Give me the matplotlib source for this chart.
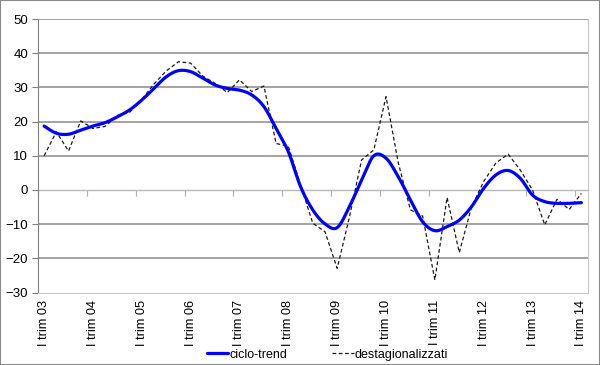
import matplotlib
matplotlib.use("Agg")
import matplotlib.pyplot as plt
import numpy as np
from matplotlib.patches import Rectangle

plt.rcParams['font.family'] = ['Liberation Sans', 'DejaVu Sans']

years = ["03", "04", "05", "06", "07", "08", "09", "10", "11", "12", "13", "14"]
tick_labels = ["I trim " + y for y in years]

ciclo_trend = [18.7, 16.6, 16.3, 17.5, 18.7, 19.7, 21.4, 23.4, 26.3, 29.7,
               33.1, 34.9, 34.6, 32.7, 30.7, 29.7, 29.2, 27.8, 24.4, 18.0,
               11.2, 1.0, -5.8, -9.9, -11.0, -4.9, 2.9, 10.0, 9.3, 3.9,
               -2.9, -9.3, -11.9, -10.7, -8.8, -4.9, 0.5, 4.4, 5.7, 3.4,
               -1.5, -3.4, -3.9, -3.9, -3.7]

destagionalizzati = [10.0, 17.0, 11.4, 20.2, 18.0, 18.6, 21.8, 22.7, 26.5, 31.0,
                     34.8, 37.5, 37.1, 33.3, 31.2, 28.5, 32.2, 28.8, 30.4, 13.6,
                     12.8, 1.5, -9.7, -12.2, -22.9, -8.0, 8.8, 11.7, 27.3, 8.0,
                     -5.8, -7.6, -26.3, -2.2, -18.3, -5.0, 2.5, 7.9, 10.5, 5.8,
                     0.0, -10.2, -2.7, -5.7, -1.0]

series_names = ["ciclo-trend", "destagionalizzati"]


def smooth(y, n=20):
    """Catmull-Rom/Bezier smoothing like Excel's smoothed line."""
    y = np.asarray(y, float)
    x = np.arange(len(y), dtype=float)
    P = np.column_stack([x, y])
    out = []
    for i in range(len(P) - 1):
        p0 = P[i - 1] if i > 0 else P[i]
        p1 = P[i]
        p2 = P[i + 1]
        p3 = P[i + 2] if i + 2 < len(P) else P[i + 1]
        c1 = p1 + (p2 - p0) / 6.0
        c2 = p2 - (p3 - p1) / 6.0
        t = np.linspace(0, 1, n, endpoint=(i == len(P) - 2))[:, None]
        seg = ((1 - t) ** 3) * p1 + 3 * ((1 - t) ** 2) * t * c1 + 3 * (1 - t) * t ** 2 * c2 + t ** 3 * p2
        out.append(seg)
    out = np.vstack(out)
    return out[:, 0], out[:, 1]


fig = plt.figure(figsize=(6.0, 3.65), dpi=100)
ax = fig.add_axes([38 / 600, 1 - 292.6 / 365, (587.5 - 38) / 600, (292.6 - 19) / 365])

n = len(ciclo_trend)
xs = np.arange(n)

# grid lines
ax.set_ylim(-30, 50)
ax.set_xlim(-0.5, n - 0.5)
ax.set_yticks(np.arange(-30, 51, 10))
for v in np.arange(-20, 51, 10):
    if v == 0:
        continue
    ax.axhline(v, color='#8a8a8a', lw=1.1, zorder=1)

sx, sy = smooth(ciclo_trend)
l1, = ax.plot(sx, sy, color='#0000ff', lw=2.3, zorder=4, solid_capstyle='round')
l2, = ax.plot(xs, destagionalizzati, color='#1a1a1a', lw=0.9, ls=(0, (3, 2)), zorder=3)

# spines
ax.spines['left'].set_color('#808080')
ax.spines['right'].set_color('#c8c8c8')
ax.spines['top'].set_visible(False)
ax.spines['bottom'].set_color('#c8c8c8')

ax.tick_params(axis='y', direction='out', length=4, color='#808080', labelsize=9.5, pad=3)
ax.set_xticks(np.arange(0, n, 4))
ax.set_xticklabels(tick_labels, rotation=90, fontsize=9.2)
ax.tick_params(axis='x', length=0, pad=5.5)

# category axis crossing at 0
sec = ax.secondary_xaxis(30 / 80)
sec.set_xticks(np.arange(-0.5, n, 4))
sec.set_xticklabels([])
sec.tick_params(axis='x', direction='out', length=4, color='#b0b0b0')
sec.spines['bottom'].set_color('#b8b8b8')
sec.spines['bottom'].set_linewidth(1.0)

fig.legend([l1, l2], series_names, loc='center', bbox_to_anchor=(0.546, 0.028),
           ncol=2, frameon=False, fontsize=9, handlelength=1.7, handletextpad=0.1,
           columnspacing=3.6)

fig.patches.append(Rectangle((0, 0), 1, 1, transform=fig.transFigure, fill=False,
                             edgecolor='#8a8a8a', lw=1.5))

fig.savefig("out.png", dpi=100)
